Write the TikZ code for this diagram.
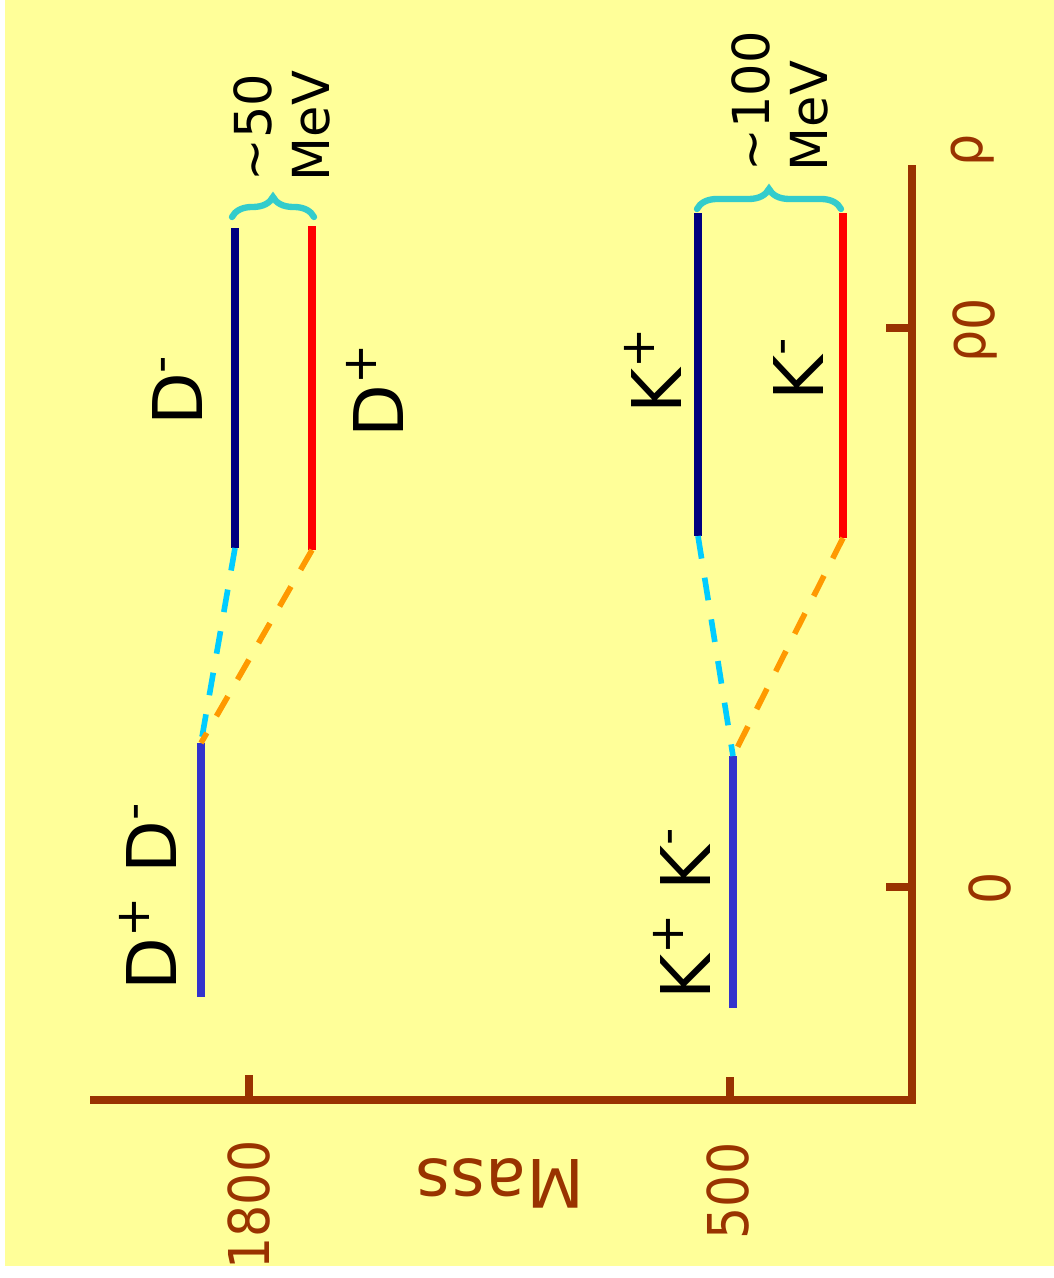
\documentclass[tikz,border=0pt]{standalone}
\usepackage{fontspec}
\setmainfont{DejaVu Sans}
\newfontfamily\narrowfont{DejaVu Sans Condensed}
\usetikzlibrary{decorations.pathreplacing}
\definecolor{slideyellow}{RGB}{255,255,153}
\definecolor{axisbrown}{RGB}{153,51,0}
\definecolor{levelnavy}{RGB}{0,0,128}
\definecolor{levelred}{RGB}{255,0,0}
\definecolor{levelblue}{RGB}{51,51,204}
\definecolor{linkcyan}{RGB}{0,204,255}
\definecolor{linkorange}{RGB}{255,153,0}
\definecolor{bracecyan}{RGB}{51,204,204}

\begin{document}
\begin{tikzpicture}[x=0.01cm, y=-0.01cm,
  axis/.style={draw=axisbrown, line width=2.3pt},
  level/.style={line width=2.1pt},
  link/.style={line width=1.6pt, dash pattern=on 6.5pt off 5.5pt},
  gap/.style={draw=bracecyan, line width=1.8pt, line cap=round, decorate,
    decoration={brace, amplitude=5.7pt}},
  particle/.style={rotate=90, inner sep=0pt, font=\fontsize{19.5}{22}\selectfont},
  gaptext/.style={rotate=90, inner sep=0pt, align=left, anchor=west,
    font=\fontsize{14.5}{16.5}\selectfont},
  ticklabel/.style={rotate=90, inner sep=0pt, text=axisbrown,
    font=\narrowfont\fontsize{16}{18}\selectfont}]
  \useasboundingbox (0,0) rectangle (1054,1278);
  \clip (5,0) rectangle (1054,1266);
  \fill[slideyellow] (5,0) rectangle (1054,1266);

  \coordinate (rhoend) at (912,165);
  \coordinate (origin) at (912,1100);
  \coordinate (massend) at (90,1100);
  \draw[axis] (rhoend) -- (origin) -- (massend);
  \draw[axis] (886,328) -- (912,328);
  \draw[axis] (886,887) -- (912,887);
  \draw[axis] (249,1075) -- (249,1100);
  \draw[axis] (730,1077) -- (730,1100);

  \node[ticklabel] (rho) at (973,150) {ρ};
  \node[ticklabel] (rho0) at (975,330) {ρ\raisebox{-0.3ex}{0}};
  \node[ticklabel] (zero) at (990,888) {0};
  \node[ticklabel, anchor=east] (m1800) at (249,1140) {1800};
  \node[ticklabel] (m500) at (728,1191) {500};
  \node[rotate=180, text=axisbrown, font=\fontsize{19}{22}\selectfont] (mass) at (500,1183) {Mass};

  \coordinate (Dm-top) at (235,228);
  \coordinate (Dm-bot) at (235,548);
  \coordinate (Dp-top) at (312,226);
  \coordinate (Dp-bot) at (312,550);
  \coordinate (DD-top) at (201,743);
  \coordinate (DD-bot) at (201,997);
  \coordinate (Kp-top) at (698,213);
  \coordinate (Kp-bot) at (698,536);
  \coordinate (Km-top) at (843,213);
  \coordinate (Km-bot) at (843,538);
  \coordinate (KK-top) at (733,756);
  \coordinate (KK-bot) at (733,1008);

  \draw[level, levelnavy] (Dm-top) -- (Dm-bot);
  \draw[level, levelred] (Dp-top) -- (Dp-bot);
  \draw[level, levelblue] (DD-top) -- (DD-bot);
  \draw[level, levelnavy] (Kp-top) -- (Kp-bot);
  \draw[level, levelred] (Km-top) -- (Km-bot);
  \draw[level, levelblue] (KK-top) -- (KK-bot);

  \draw[link, linkcyan] (Dm-bot) -- (DD-top);
  \draw[link, linkorange] (Dp-bot) -- (DD-top);
  \draw[link, linkcyan] (Kp-bot) -- (KK-top);
  \draw[link, linkorange] (Km-bot) -- (KK-top);

  \draw[gap] (232,217) -- (314,217);
  \draw[gap] (697,209) -- (841,209);

  \node[particle] (Dm) at (178,390) {D\textsuperscript{-}};
  \node[particle] (Dp) at (375,390) {D\textsuperscript{+}};
  \node[particle] (DpDm) at (148,896) {D\textsuperscript{+} D\textsuperscript{-}};
  \node[particle] (Kp) at (653,370) {K\textsuperscript{+}};
  \node[particle] (Km) at (798,368) {K\textsuperscript{-}};
  \node[particle] (KpKm) at (682,913) {K\textsuperscript{+} K\textsuperscript{-}};
  \node[gaptext] (Dgap) at (282,182) {\textasciitilde50\\MeV};
  \node[gaptext] (Kgap) at (780,172) {\textasciitilde100\\MeV};
\end{tikzpicture}
\end{document}
